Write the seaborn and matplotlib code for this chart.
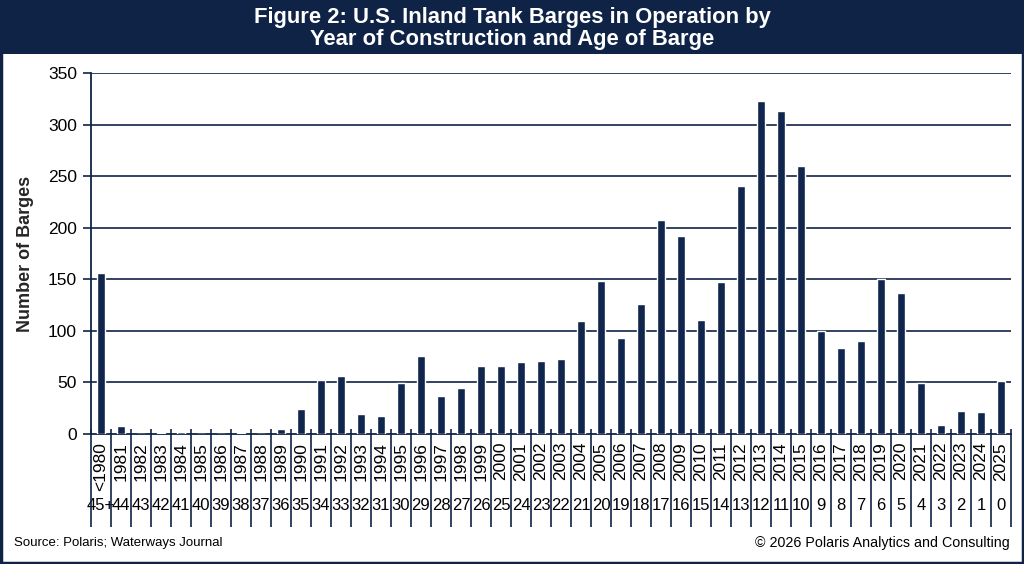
import matplotlib
matplotlib.use("Agg")
import matplotlib.pyplot as plt
import matplotlib.transforms as mtransforms
from matplotlib.patches import Rectangle
import seaborn as sns
import pandas as pd

years = ["<1980"] + [str(y) for y in range(1981, 2026)]
ages = ["45+"] + [str(a) for a in range(44, -1, -1)]
barges = [156, 8, 0, 1, 2, 0, 0, 1, 0, 5,
          24, 52, 56, 19, 17, 49, 76, 37, 45, 66,
          66, 70, 71, 73, 110, 148, 93, 126, 207, 192,
          111, 147, 240, 323, 313, 260, 100, 83, 90, 150,
          137, 49, 9, 22, 21, 51]
yticks = [0, 50, 100, 150, 200, 250, 300, 350]

title = "Figure 2: U.S. Inland Tank Barges in Operation by\nYear of Construction and Age of Barge"
ylabel = "Number of Barges"
source = "Source: Polaris; Waterways Journal"
copyright_txt = "\u00a9 2026 Polaris Analytics and Consulting"

NAVY = "#0f2347"
BAR = "#11264d"

sns.set_theme(style="white")
plt.rcParams["font.family"] = ["Liberation Sans", "DejaVu Sans"]

df = pd.DataFrame({"year": years, "barges": barges})

fig = plt.figure(figsize=(10.24, 5.64), dpi=100)
ax = fig.add_axes([91/1024, 1 - 434/564, (1011 - 91)/1024, (434 - 73)/564])

sns.barplot(data=df, x="year", y="barges", order=years, color=BAR,
            width=0.38, saturation=1, ax=ax, zorder=3)

ax.set_ylim(0, 350)
ax.set_xlim(-0.5, len(years) - 0.5)
ax.set_yticks(yticks)
ax.set_yticklabels([str(v) for v in yticks], fontsize=12.5, color="black")
ax.tick_params(axis="y", length=6, width=1.2, color=NAVY, left=True, pad=4)
for v in yticks[1:]:
    ax.axhline(v, color=NAVY, lw=1.2, zorder=1)

for s in ["top", "right"]:
    ax.spines[s].set_visible(False)
ax.spines["left"].set_color(NAVY)
ax.spines["left"].set_linewidth(1.3)
ax.spines["bottom"].set_color(NAVY)
ax.spines["bottom"].set_linewidth(1.3)

ax.set_xlabel("")
ax.set_ylabel(ylabel, fontsize=13, fontweight="bold", labelpad=10)
ax.set_xticks([])

trans = mtransforms.blended_transform_factory(ax.transData, ax.transAxes)
px = 1.0 / 361.0
n = len(years)
ax.vlines([i - 0.5 for i in range(n + 1)], -93 * px, 5 * px, colors=NAVY,
          lw=1.2, transform=trans, clip_on=False, zorder=4)
for i, (yr, ag) in enumerate(zip(years, ages)):
    ax.text(i, -8 * px, yr, transform=trans, rotation=90, ha="center", va="top",
            fontsize=12.5, color="black", clip_on=False)
    ax.text(i, -71 * px, ag, transform=trans, ha="center", va="center",
            fontsize=12, color="black", clip_on=False)

# header band and border
fig.patches.append(Rectangle((0, 1 - 54/564), 1, 54/564, transform=fig.transFigure,
                             facecolor=NAVY, edgecolor="none", zorder=0))
fig.patches.append(Rectangle((0.001, 0.002), 0.998, 0.996, transform=fig.transFigure,
                             facecolor="none", edgecolor=NAVY, lw=2.5, zorder=5))
fig.text(0.5, 1 - 28.5/564, title, ha="center", va="center", color="white",
         fontsize=15.8, fontweight="bold", linespacing=1.12)

fig.text(14/1024, 1 - 543/564, source, ha="left", va="center", fontsize=9.5, color="black")
fig.text(1010/1024, 1 - 543/564, copyright_txt, ha="right", va="center", fontsize=10.3, color="black")

fig.savefig("out.png", dpi=100, facecolor="white")
